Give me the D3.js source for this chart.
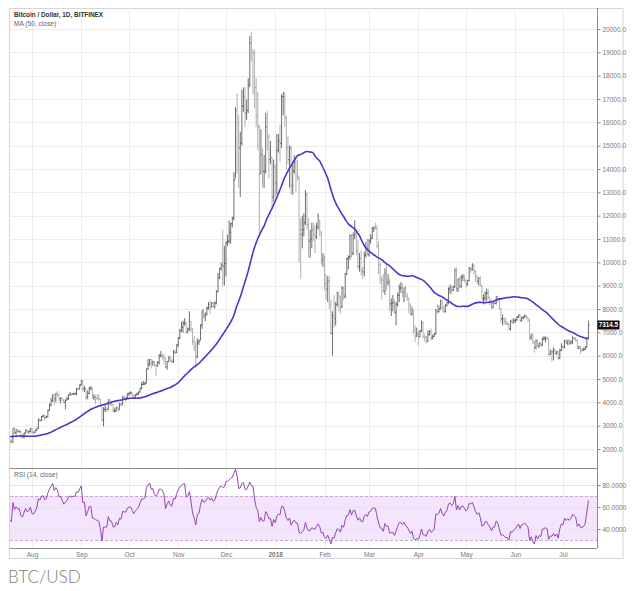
<!DOCTYPE html>
<html><head><meta charset="utf-8">
<script src="https://cdn.jsdelivr.net/npm/d3@7/dist/d3.min.js"></script>
<style>
body{margin:0;background:#fff;}
svg{display:block;font-family:"Liberation Sans",Arial,sans-serif;}
</style>
</head><body>
<svg id="chart" width="634" height="591"></svg>
<script>
// ---------------- DATA ----------------
const title = "Bitcoin / Dollar, 1D, BITFINEX";
const maLabel = "MA (50, close)";
const rsiLabel = "RSI (14, close)";
const caption = "BTC/USD";
const firstDay = "2017-07-18";          // first visible daily bar
// closes before the first visible bar (2017-05-29 .. 2017-07-17), used for MA(50)/RSI(14) warm-up
const priorCloses = [2300,2200,2330,
 2450,2480,2540,2520,2700,2870,2690,2800,2810,2920,2960,2660,2720,2480,2440,2490,2650,2550,2610,2720,2620,2680,2680,2560,2540,2440,2570,2580,2540,2480,
 2430,2520,2570,2600,2610,2610,2500,2560,2500,2330,2380,2400,2360,2230,1970,1930,2230];

const close17Jul = [2330,2290,2880,2690,2810,2750,2760,2580,2530,2680,2810,2730,2760,2880];
const high17Jul  = [2410,2420,2900,2940,2860,2830,2800,2780,2640,2700,2840,2820,2780,2900];
const low17Jul   = [2210,2260,2270,2650,2620,2690,2700,2480,2450,2460,2660,2700,2650,2710];

const close17Aug = [2720,2710,2800,2890,3250,3220,3390,3420,3340,3380,3650,3880,4070,4320,4160,4380,4330,4160,4190,4090,4000,4090,4150,4330,4370,4350,4380,4380,4580,4570,4740];
const high17Aug  = [2900,2760,2820,2900,3320,3290,3420,3490,3440,3430,3700,3960,4200,4340,4330,4400,4480,4370,4200,4190,4120,4120,4250,4350,4450,4380,4400,4410,4630,4630,4760];
const low17Aug   = [2650,2620,2690,2770,2880,3150,3200,3360,3210,3320,3360,3640,3840,4020,3880,4000,4250,4040,3960,4070,3950,3700,4090,4110,4280,4290,4320,4300,4310,4510,4550];

const close17Sep = [4920,4580,4600,4230,4380,4600,4600,4230,4230,4170,4160,4130,3870,3240,3700,3700,3690,4100,3910,3900,3630,3630,3790,3680,3930,3890,4210,4200,4190,4360];
const high17Sep  = [4970,4920,4700,4600,4510,4660,4700,4640,4360,4290,4340,4350,4150,3920,3790,3890,3780,4140,4120,4060,3920,3770,3800,3800,3990,3990,4260,4300,4240,4380];
const low17Sep   = [4720,4460,4440,4080,4130,4350,4510,4150,4090,3920,4100,4080,3800,3220,2970,3580,3590,3680,3880,3860,3590,3560,3610,3650,3680,3850,3890,4150,4030,4180];

const close17Oct = [4400,4410,4310,4220,4320,4370,4440,4610,4770,4780,4820,5430,5640,5830,5680,5750,5600,5570,5700,6000,6010,5980,5900,5520,5750,5900,5780,5750,6150,6130,6470];
const high17Oct  = [4420,4470,4440,4340,4360,4420,4460,4620,4870,4920,4880,5450,5860,5850,5860,5790,5770,5620,5760,6070,6200,6080,6050,5900,5770,5980,6000,5870,6240,6250,6480];
const low17Oct   = [4280,4340,4210,4160,4170,4290,4320,4430,4550,4740,4750,4820,5410,5560,5450,5560,5530,5130,5530,5630,5920,5830,5650,5470,5400,5720,5740,5690,5690,6040,6110];

const close17Nov = [6770,7080,7210,7380,7410,7020,7140,7460,7140,6620,6360,5950,6560,6640,7320,7870,7710,7790,8040,8200,8070,8250,8100,8250,8750,9320,9740,9900,9840,9950];
const high17Nov  = [6800,7140,7450,7500,7600,7420,7200,7900,7480,7200,6850,6600,6740,6700,7330,7970,8000,7850,8100,8300,8380,8290,8300,8330,8800,9550,9770,10000,11400,10700];
const low17Nov   = [6370,6700,7000,6990,7280,6930,6960,7060,7020,6450,6200,5500,5900,6460,6660,7150,7580,7480,7720,7970,7800,8070,8040,8020,8200,8710,9300,9650,9000,9000];

const close17Dec = [10860,10910,11290,11650,11900,13540,16500,16000,14900,15100,16700,17100,16400,16500,17600,19400,19000,18950,17500,16300,15800,13800,14600,13900,13900,15800,15400,14400,14500,12800,14100];
const high17Dec  = [10900,11180,11800,11700,11950,13860,16650,17250,16300,15600,17400,17500,17500,16980,17900,19700,19891,19150,19100,17900,17300,15900,15700,14900,14600,16400,16500,15500,15200,14500,14400];
const low17Dec   = [9400,10700,10800,10800,11500,11800,13600,13800,13200,12800,15000,16450,15800,16100,16400,17500,18600,17200,16600,15800,14800,11100,13800,13200,13200,13800,14800,13600,14200,12300,12600];

const close18Jan = [13400,14800,15200,15100,17100,17100,16200,14900,14400,14900,13300,13900,14300,13700,13600,11400,11200,11400,11700,12900,11600,10900,11000,11400,11200,11100,11500,11800,11300,10100,10200];
const high18Jan  = [14200,15500,15500,15900,17200,17300,17300,16300,15400,15000,15000,14200,14600,14400,14400,13700,11900,12000,12100,13100,13000,11900,11400,11700,11700,11600,11700,12100,11800,11300,10400];
const low18Jan   = [12800,12900,14700,14300,14900,16300,15800,14000,14200,13200,12900,12900,13800,13000,13500,10000,9300,10600,11100,11600,11400,10200,10200,10600,10900,10400,11000,11400,11100,9900,9800];

const close18Feb = [9100,8850,9200,8200,6950,7700,7600,8200,8700,8550,8080,8900,8550,9500,10170,10240,11140,10400,11150,11230,10470,9830,10170,9660,9590,10310,10570,10330];
const high18Feb  = [10300,9500,9400,9400,8400,7900,8600,8300,8750,8700,8550,8980,8940,9550,10200,10300,11200,11200,11280,11800,11300,10940,10400,10500,9800,10450,10880,11000];
const low18Feb   = [8800,8400,8300,8000,6900,6000,7200,7300,8100,7900,7800,8050,8400,8450,9450,9700,10100,10200,10300,11000,10300,9700,9600,9450,9300,9400,10200,10300];

const close18Mar = [10930,11030,11450,11500,11450,10710,9910,9270,9230,8770,9530,9140,9150,8220,8260,8270,7860,8200,8590,8900,8900,8720,8900,8550,8450,8150,7790,7940,7090,6840,6930];
const high18Mar  = [11000,11200,11520,11530,11700,11600,10900,10000,9400,9500,9750,9900,9500,9300,8450,8600,8400,8300,8700,9050,9150,9100,8920,9000,8700,8500,8250,8100,7970,7300,7200];
const low18Mar   = [10250,10800,11000,11300,11400,10600,9500,9060,8400,8700,8600,8800,9000,7920,7700,7900,7800,7300,8100,8300,8700,8500,8300,8500,8350,7830,7750,7700,6960,6600,6800];

const close18Apr = [6810,7050,7430,6810,6780,6620,6910,7020,6770,6830,6940,7920,7890,8000,8360,8060,7890,8160,8290,8850,8920,8800,8940,9650,8860,9280,8990,9350,9390,9240];
const high18Apr  = [7050,7100,7500,7440,6920,6850,7080,7100,7180,6900,6970,8000,8200,8150,8400,8400,8150,8220,8300,8930,9050,9000,9000,9750,9780,9300,9380,9450,9500,9460];
const low18Apr   = [6450,6790,7020,6750,6600,6520,6600,6860,6640,6700,6800,6900,7800,7850,7990,7900,7830,7850,8100,8200,8650,8650,8770,8920,8730,8730,8900,8900,9200,9140];

const close18May = [9070,9220,9740,9700,9860,9620,9370,9190,9310,9010,8430,8470,8680,8680,8490,8340,8070,8250,8240,8540,8410,8010,7560,7590,7460,7360,7350,7140,7470,7410,7500];
const high18May  = [9250,9250,9800,9800,9960,9930,9650,9440,9360,9400,9020,8630,8750,8880,8850,8520,8400,8280,8390,8550,8560,8420,8020,7760,7630,7630,7470,7370,7530,7580,7610];
const low18May   = [8880,8990,9200,9550,9640,9450,9170,9080,9000,8980,8400,8200,8350,8350,8420,8150,7980,8030,8200,8190,8300,7970,7400,7300,7320,7340,7300,7100,7080,7390,7400];

const close18Jun = [7540,7640,7720,7500,7630,7660,7690,7620,7530,6790,6910,6580,6350,6640,6400,6510,6450,6710,6740,6770,6720,6050,6170,6160,6250,6090,6160,5900,6220,6400];
const high18Jun  = [7580,7700,7780,7760,7650,7710,7770,7720,7650,7560,6930,6950,6620,6700,6690,6570,6580,6780,6840,6820,6800,6750,6250,6260,6350,6280,6200,6190,6300,6530];
const low18Jun   = [7400,7480,7620,7470,7450,7560,7630,7580,7460,6650,6680,6500,6130,6280,6390,6340,6430,6410,6660,6570,6680,6000,6030,5750,5800,6050,6040,5820,5850,6200];

const close18Jul = [6360,6620,6530,6600,6530,6600,6760,6710,6660,6310,6390,6250,6240,6270,6360,6740,7314.5];
const high18Jul  = [6440,6680,6700,6680,6720,6650,6830,6800,6800,6690,6420,6400,6340,6350,6400,6760,7500];
const low18Jul   = [6280,6320,6500,6450,6450,6480,6500,6680,6620,6300,6280,6080,6150,6210,6250,6340,6700];

const monthLabels = ["Aug","Sep","Oct","Nov","Dec","2018","Feb","Mar","Apr","May","Jun","Jul"];
const monthStarts = ["2017-08-01","2017-09-01","2017-10-01","2017-11-01","2017-12-01","2018-01-01","2018-02-01","2018-03-01","2018-04-01","2018-05-01","2018-06-01","2018-07-01"];
const priceTicks = [2000,3000,4000,5000,6000,7000,8000,9000,10000,11000,12000,13000,14000,15000,16000,17000,18000,19000,20000];
const rsiTicks = [40,60,80];
const rsiBands = [30,70];
const lastPriceLabel = "7314.5";

// ---------------- BUILD ----------------
const closes = [].concat(close17Jul,close17Aug,close17Sep,close17Oct,close17Nov,close17Dec,close18Jan,close18Feb,close18Mar,close18Apr,close18May,close18Jun,close18Jul);
const highs  = [].concat(high17Jul,high17Aug,high17Sep,high17Oct,high17Nov,high17Dec,high18Jan,high18Feb,high18Mar,high18Apr,high18May,high18Jun,high18Jul);
const lows   = [].concat(low17Jul,low17Aug,low17Sep,low17Oct,low17Nov,low17Dec,low18Jan,low18Feb,low18Mar,low18Apr,low18May,low18Jun,low18Jul);
const allCloses = priorCloses.concat(closes);
const P = priorCloses.length;
const day0 = new Date(firstDay + "T00:00:00Z");
const bars = closes.map((c,i)=>({
  date: new Date(day0.getTime() + i*86400000),
  open: allCloses[P+i-1], high: highs[i], low: lows[i], close: c
}));
// MA(50)
bars.forEach((b,i)=>{ const k=P+i; b.ma = d3.mean(allCloses.slice(k-49,k+1)); });
// RSI(14) Wilder
(function(){
  let ag=0, al=0; const n=14;
  for(let k=1;k<allCloses.length;k++){
    const ch = allCloses[k]-allCloses[k-1];
    const g = Math.max(ch,0), l = Math.max(-ch,0);
    if(k<=n){ ag+=g/n; al+=l/n; }
    else { ag=(ag*(n-1)+g)/n; al=(al*(n-1)+l)/n; }
    if(k>=P){ bars[k-P].rsi = al===0?100:100-100/(1+ag/al); }
  }
})();

// ---------------- LAYOUT ----------------
const svg = d3.select("#chart");
const L = 10, AX = 597, FR = 623, TOP = 8, MAINB = 468, RSIB = 548, FB = 558;
const x = d3.scaleUtc().domain([new Date("2017-08-01T00:00:00Z"), new Date("2018-07-01T00:00:00Z")]).range([32,563]);
const y = d3.scaleLinear().domain([2000,20000]).range([449,29]);
const yr = d3.scaleLinear().domain([40,80]).range([529,485]);

const defs = svg.append("defs");
defs.append("clipPath").attr("id","cm").append("rect").attr("x",L).attr("y",TOP).attr("width",AX-L).attr("height",MAINB-TOP);
defs.append("clipPath").attr("id","cr").append("rect").attr("x",L).attr("y",MAINB).attr("width",AX-L).attr("height",RSIB-MAINB);

// frame
svg.append("rect").attr("x",9.5).attr("y",TOP+0.5).attr("width",FR-9.5).attr("height",FB-TOP).attr("fill","none").attr("stroke","#d6d6d6");

// grid
const mDates = monthStarts.map(s=>new Date(s+"T00:00:00Z"));
const grid = svg.append("g").attr("stroke","#ededed").attr("stroke-width",1);
grid.selectAll("line.v").data(mDates).join("line").attr("class","v")
  .attr("x1",d=>Math.round(x(d))+0.5).attr("x2",d=>Math.round(x(d))+0.5).attr("y1",TOP).attr("y2",RSIB);
grid.selectAll("line.h").data(priceTicks).join("line").attr("class","h")
  .attr("x1",L).attr("x2",AX).attr("y1",d=>Math.round(y(d))+0.5).attr("y2",d=>Math.round(y(d))+0.5);

// RSI background band
const rsiG = svg.append("g").attr("clip-path","url(#cr)");
rsiG.append("rect").attr("x",L).attr("width",AX-L)
  .attr("y",yr(rsiBands[1])).attr("height",yr(rsiBands[0])-yr(rsiBands[1])).attr("fill","#f3e5fb");
rsiG.selectAll("line.g").data(rsiTicks).join("line").attr("class","g")
  .attr("x1",L).attr("x2",AX).attr("y1",d=>Math.round(yr(d))+0.5).attr("y2",d=>Math.round(yr(d))+0.5)
  .attr("stroke","#ebdff2");
rsiG.selectAll("line.b").data(rsiBands).join("line").attr("class","b")
  .attr("x1",L).attr("x2",AX).attr("y1",d=>Math.round(yr(d))+0.5).attr("y2",d=>Math.round(yr(d))+0.5)
  .attr("stroke","#c9a6d9").attr("stroke-dasharray","3,2");
rsiG.append("path").datum(bars).attr("fill","none").attr("stroke","#9348b0").attr("stroke-width",1)
  .attr("d",d3.line().x(d=>x(d.date)).y(d=>yr(d.rsi)));

// OHLC bars
const mainG = svg.append("g").attr("clip-path","url(#cm)");
const bg = mainG.append("g");
bars.forEach(b=>{
  const cx = x(b.date);
  const col = b.close >= b.open ? "#5e5e5e" : "#a8a8a8";
  const p = d3.path();
  p.moveTo(cx, y(b.high)); p.lineTo(cx, y(b.low));
  p.moveTo(cx-1.2, y(b.open)); p.lineTo(cx, y(b.open));
  p.moveTo(cx, y(b.close)); p.lineTo(cx+1.2, y(b.close));
  bg.append("path").attr("d",p.toString()).attr("stroke",col).attr("stroke-width",0.9).attr("fill","none");
});
// MA
mainG.append("path").datum(bars).attr("fill","none").attr("stroke","#5a2fc9").attr("stroke-width",1.6)
  .attr("d",d3.line().x(d=>x(d.date)).y(d=>y(d.ma)).curve(d3.curveMonotoneX));

// panel lines
svg.append("line").attr("x1",L).attr("x2",AX).attr("y1",MAINB+0.5).attr("y2",MAINB+0.5).attr("stroke","#8a8a8a");
svg.append("line").attr("x1",L).attr("x2",AX).attr("y1",RSIB+0.5).attr("y2",RSIB+0.5).attr("stroke","#8a8a8a");
svg.append("line").attr("x1",AX+0.5).attr("x2",AX+0.5).attr("y1",TOP).attr("y2",RSIB).attr("stroke","#8a8a8a");

// price axis
const pa = svg.append("g").attr("transform",`translate(${AX+0.5},0)`)
  .call(d3.axisRight(y).tickValues(priceTicks).tickFormat(d=>d.toFixed(1)).tickSize(3).tickPadding(2));
pa.select(".domain").remove();
pa.selectAll(".tick line").attr("stroke","#8a8a8a");
pa.selectAll("text").attr("fill","#777").attr("font-size","6.5px").attr("font-family","Liberation Sans, Arial, sans-serif");

const ra = svg.append("g").attr("transform",`translate(${AX+0.5},0)`)
  .call(d3.axisRight(yr).tickValues(rsiTicks).tickFormat(d=>d.toFixed(4)).tickSize(3).tickPadding(2));
ra.select(".domain").remove();
ra.selectAll(".tick line").attr("stroke","#8a8a8a");
ra.selectAll("text").attr("fill","#777").attr("font-size","6.5px").attr("font-family","Liberation Sans, Arial, sans-serif");

// time axis
const ta = svg.append("g").attr("transform",`translate(0,${RSIB+0.5})`)
  .call(d3.axisBottom(x).tickValues(mDates).tickFormat((d,i)=>monthLabels[i]).tickSize(0).tickPadding(4));
ta.select(".domain").remove();
ta.selectAll("text").attr("fill","#777").attr("font-size","6.5px").attr("font-family","Liberation Sans, Arial, sans-serif")
  .attr("font-weight",(d,i)=>monthLabels[i]==="2018"?"bold":"normal");

// last price label
const lp = +lastPriceLabel;
svg.append("rect").attr("x",AX+0.5).attr("y",y(lp)-4.5).attr("width",22).attr("height",9).attr("fill","#111");
svg.append("text").attr("x",AX+11.5).attr("y",y(lp)+2.3).attr("text-anchor","middle").attr("fill","#fff")
  .attr("font-size","6.3px").attr("font-weight","bold").text(lastPriceLabel);

// titles
svg.append("text").attr("x",14).attr("y",17).attr("font-size","6.4px").attr("font-weight","bold").attr("fill","#333").text(title);
svg.append("text").attr("x",14).attr("y",26).attr("font-size","6.6px").attr("fill","#666").text(maLabel);
svg.append("text").attr("x",14).attr("y",477).attr("font-size","6.6px").attr("fill","#666").text(rsiLabel);

// caption
svg.append("text").attr("x",8).attr("y",583).attr("font-size","17px").attr("font-family","Lato, 'Open Sans', sans-serif")
  .attr("font-weight",300).attr("fill","#808080").text(caption);
</script>
</body></html>
